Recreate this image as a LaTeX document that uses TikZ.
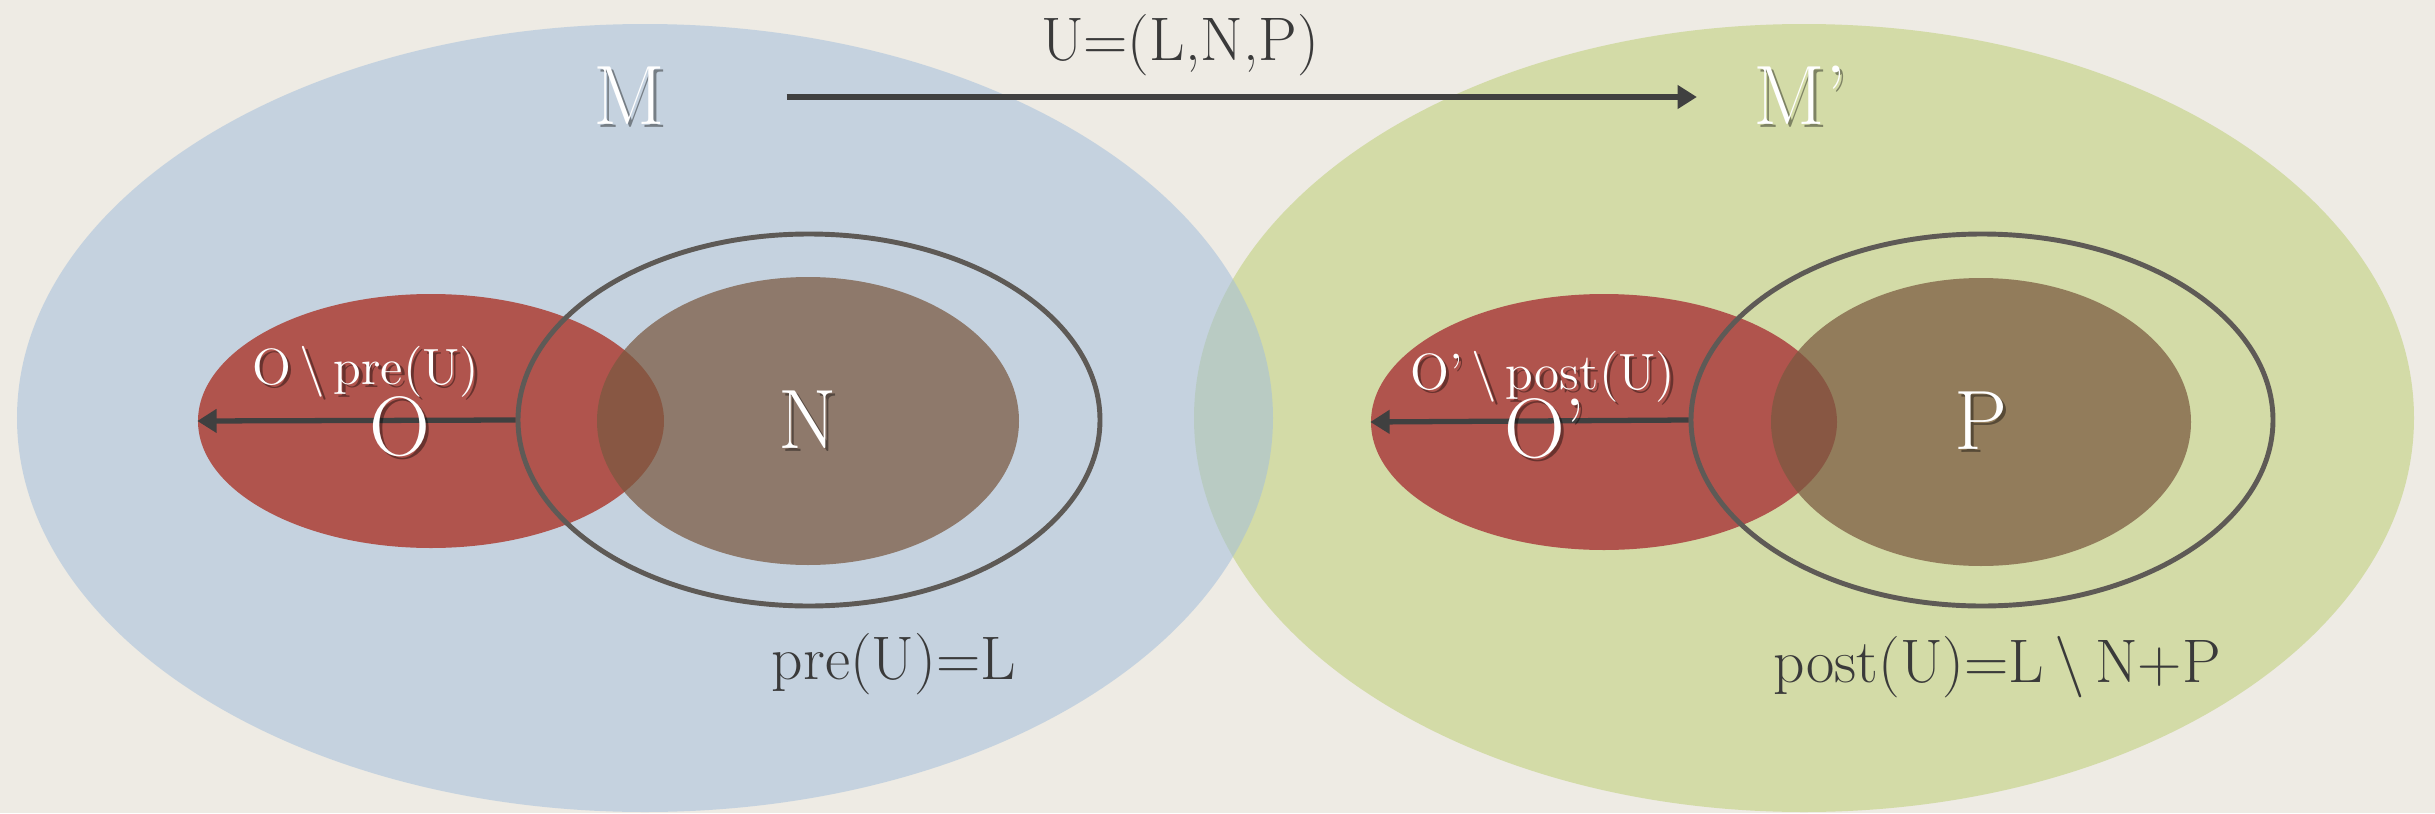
\documentclass[tikz,border=0pt]{standalone}
\definecolor{PaperBg}{HTML}{EEEBE4}
\definecolor{ModelBlue}{HTML}{A4BFDB}
\definecolor{ModelGreen}{HTML}{D3DBA7}
\definecolor{RegionRed}{HTML}{B0544D}
\definecolor{ChangeBrown}{HTML}{7A5940}
\definecolor{RingGrey}{HTML}{5E5A56}
\definecolor{ArrowDark}{HTML}{404040}
\definecolor{TextDark}{HTML}{3A3A3A}
\usetikzlibrary{shapes.geometric, arrows.meta, positioning}
% white text with a soft drop shadow
\newcommand{\shadowed}[1]{\leavevmode\rlap{\hspace{0.9pt}\raisebox{-0.9pt}{\begin{pgfscope}\pgfsetfillopacity{0.4}\color{black}#1\end{pgfscope}}}#1}
\tikzset{
    % Model ellipse
    model/.style={
        ellipse,
        draw=none,
        inner sep=0pt
    },
    % Outer region O
    region/.style={
        ellipse,
        draw=none,
        fill=RegionRed,
        inner sep=0pt
    },
    % Changed part N / P
    change/.style={
        ellipse,
        draw=none,
        fill=ChangeBrown,
        fill opacity=0.73,
        inner sep=0pt
    },
    % Boundary ring L
    boundary/.style={
        ellipse,
        draw=RingGrey,
        line width=1.4pt,
        inner sep=0pt
    },
    % Arrow style
    arrow/.style={
        -{Triangle[width=6.5pt,length=5.5pt]},
        line width=1.5pt,
        color=ArrowDark
    },
    % Big white letter
    biglabel/.style={
        text=white,
        inner sep=0pt,
        font=\fontsize{24}{28}\selectfont
    },
    % Small white label
    smalllabel/.style={
        text=white,
        inner sep=0pt,
        font=\fontsize{14.5}{17}\selectfont
    },
    % Dark formula text
    formula/.style={
        text=TextDark,
        inner sep=0pt,
        font=\fontsize{17.5}{21}\selectfont
    }
}
\begin{document}
\begin{tikzpicture}
    \fill [PaperBg] (0,0) rectangle (24.35,8.13);
    \useasboundingbox (0,0) rectangle (24.35,8.13);

    % Models
    \node (modelR) [model, fill=ModelGreen, minimum width=12.20cm, minimum height=7.88cm] at (18.04,3.95) {};
    \node (modelL) [model, fill=ModelBlue, fill opacity=0.55, minimum width=12.56cm, minimum height=7.88cm] at (6.45,3.95) {};

    % Regions and changes
    \node (setO) [region, minimum width=4.66cm, minimum height=2.54cm] at (4.31,3.92) {};
    \node (setN) [change, minimum width=4.22cm, minimum height=2.88cm] at (8.08,3.92) {};
    \node (ringL) [boundary, minimum width=5.82cm, minimum height=3.72cm] at (8.09,3.93) {};

    \node (setOp) [region, minimum width=4.66cm, minimum height=2.56cm] at (16.04,3.91) {};
    \node (setP) [change, minimum width=4.20cm, minimum height=2.88cm] at (19.81,3.91) {};
    \node (ringR) [boundary, minimum width=5.82cm, minimum height=3.72cm] at (19.82,3.93) {};

    % Labels
    \node (M) [biglabel] at (6.29,7.16) {\shadowed{M}};
    \node (Mp) [biglabel] at (18.00,7.16) {\shadowed{M’}};
    \node (rule) [formula] at (11.80,7.68) {U=(L,N,P)};

    \draw [arrow, shorten <=1.21cm, shorten >=0.56cm] (M) -- (Mp);
    \draw [arrow] (ringL.west) -- (setO.west);
    \draw [arrow] (ringR.west) -- (setOp.west);

    \node (labO) [biglabel] at (4.00,3.85) {\shadowed{O}};
    \node (labN) [biglabel] at (setN) {\shadowed{N}};
    \node (labOp) [biglabel] at (15.45,3.83) {\shadowed{O’}};
    \node (labP) [biglabel] at (setP) {\shadowed{P}};

    \node (restL) [smalllabel] at (3.66,4.40) {\shadowed{O\,\textbackslash\,pre(U)}};
    \node (restR) [smalllabel] at (15.43,4.35) {\shadowed{O’\,\textbackslash\,post(U)}};

    \node (preL) [formula, anchor=base] at (8.94,1.34) {pre(U)=L};
    \node (postL) [formula, anchor=base] at (19.97,1.31) {post(U)=L\,\textbackslash\,N+P};
\end{tikzpicture}
\end{document}
